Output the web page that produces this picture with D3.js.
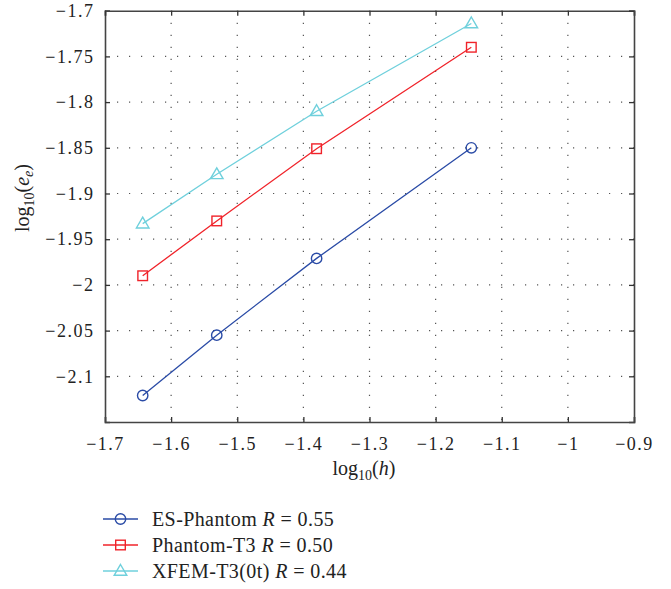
<!DOCTYPE html>
<html><head><meta charset="utf-8">
<script src="https://cdn.jsdelivr.net/npm/d3@7"></script>
<style>body{margin:0;background:#fff}svg text{font-family:"Liberation Serif","Times New Roman",serif;fill:#222}</style>
</head><body><svg id="c" width="671" height="589"></svg>
<script>
const logH = [-1.643, -1.531, -1.380, -1.146];
const esPhantom = [-2.121, -2.055, -1.971, -1.850];
const phantomT3 = [-1.990, -1.930, -1.851, -1.740];
const xfemT3 = [-1.933, -1.879, -1.810, -1.714];
const xTicks = [-1.7,-1.6,-1.5,-1.4,-1.3,-1.2,-1.1,-1,-0.9];
const yTicks = [-1.7,-1.75,-1.8,-1.85,-1.9,-1.95,-2,-2.05,-2.1];
const seriesNames = ["ES-Phantom", "Phantom-T3", "XFEM-T3(0t)"];
const seriesR = ["0.55", "0.50", "0.44"];
const colors = ["#2a4ba6", "#f0232a", "#6fd0dc"];

const svg = d3.select("#c");
const L=105,R=634,T=10.7,B=422;
const x = d3.scaleLinear().domain([-1.7,-0.9]).range([L,R]);
const y = d3.scaleLinear().domain([-2.15,-1.7]).range([B,T]);

// grid
const g = svg.append("g");
g.selectAll(".gx").data(xTicks.slice(1,-1)).join("line")
 .attr("x1",d=>x(d)).attr("x2",d=>x(d)).attr("y1",T).attr("y2",B)
 .attr("stroke","#555").attr("stroke-width",1.2).attr("stroke-dasharray","1.2,10.8");
g.selectAll(".gy").data(yTicks.slice(1)).join("line")
 .attr("y1",d=>y(d)).attr("y2",d=>y(d)).attr("x1",L).attr("x2",R)
 .attr("stroke","#555").attr("stroke-width",1.2).attr("stroke-dasharray","1.2,10.8");

// axes
const fmt = d=>String(d).replace("-","\u2212");
svg.append("g").attr("transform",`translate(0,${B})`)
 .call(d3.axisBottom(x).tickValues(xTicks).tickSize(-5).tickPadding(15).tickFormat(fmt));
svg.append("g").attr("transform",`translate(${L},0)`)
 .call(d3.axisLeft(y).tickValues(yTicks).tickSize(-5).tickPadding(10.5).tickFormat(fmt));
svg.append("g").attr("transform",`translate(0,${T})`)
 .call(d3.axisTop(x).tickValues(xTicks).tickSize(-5).tickFormat(""));
svg.append("g").attr("transform",`translate(${R},0)`)
 .call(d3.axisRight(y).tickValues(yTicks).tickSize(-5).tickFormat(""));
svg.selectAll(".domain").attr("stroke","#444").attr("stroke-width",1.6);
svg.selectAll(".tick line").attr("stroke","#333").attr("stroke-width",1.3);
svg.selectAll(".tick text").attr("font-size",18).attr("letter-spacing",1.5)
 .attr("font-family","Liberation Serif").attr("fill","#222");

// series
const all = [esPhantom, phantomT3, xfemT3];
const line = d3.line().x((d,i)=>x(logH[i])).y(d=>y(d));
function marker(sel, k){
  if(k===0) sel.append("circle").attr("r",5.2);
  else if(k===1) sel.append("rect").attr("x",-4.8).attr("y",-4.8).attr("width",9.6).attr("height",9.6);
  else sel.append("path").attr("d","M0,-6.5L6.3,4.3L-6.3,4.3Z");
  sel.selectAll("*").attr("fill","none").attr("stroke",colors[k]).attr("stroke-width",1.4);
}
all.forEach((s,k)=>{
  svg.append("path").datum(s).attr("d",line).attr("fill","none")
   .attr("stroke",colors[k]).attr("stroke-width",1.3);
  s.forEach((v,i)=>{
    const m = svg.append("g").attr("transform",`translate(${x(logH[i])},${y(v)})`);
    marker(m,k);
  });
});

// axis labels
const xl = svg.append("text").attr("x",364).attr("y",475).attr("text-anchor","middle").attr("font-size",20);
xl.append("tspan").text("log");
xl.append("tspan").attr("font-size",14).attr("dy",5).text("10");
xl.append("tspan").attr("dy",-5).text("(");
xl.append("tspan").attr("font-style","italic").text("h");
xl.append("tspan").text(")");

const yl = svg.append("text").attr("transform",`translate(29,198) rotate(-90)`).attr("text-anchor","middle").attr("font-size",20);
yl.append("tspan").text("log");
yl.append("tspan").attr("font-size",14).attr("dy",5).text("10");
yl.append("tspan").attr("dy",-5).text("(");
yl.append("tspan").attr("font-style","italic").text("e");
yl.append("tspan").attr("font-style","italic").attr("font-size",14).attr("dy",4).text("e");
yl.append("tspan").attr("dy",-4).text(")");

// legend
const ly = [519, 545, 571];
seriesNames.forEach((n,k)=>{
  const lg = svg.append("g").attr("transform",`translate(0,${ly[k]})`);
  lg.append("line").attr("x1",103).attr("x2",138).attr("y1",0).attr("y2",0).attr("stroke",colors[k]).attr("stroke-width",1.3);
  const m = lg.append("g").attr("transform","translate(120.5,0)");
  marker(m,k);
  const t = lg.append("text").attr("x",152).attr("y",6.5).attr("font-size",20).attr("letter-spacing",0.4);
  t.append("tspan").text(n+" ");
  t.append("tspan").attr("font-style","italic").text("R");
  t.append("tspan").text(" = "+seriesR[k]);
});
</script></body></html>
